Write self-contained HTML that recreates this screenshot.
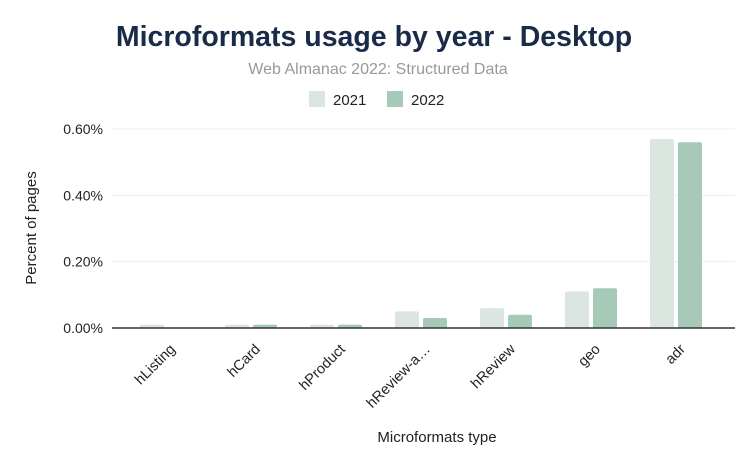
<!DOCTYPE html>
<html><head><meta charset="utf-8"><style>
body{margin:0;background:#fff;font-family:"Liberation Sans",Arial,sans-serif}
</style></head><body>
<svg width="756" height="469" viewBox="0 0 756 469" xmlns="http://www.w3.org/2000/svg" style="font-family:'Liberation Sans',Arial,sans-serif">
<rect width="756" height="469" fill="#fff"/>
<text x="374" y="46" text-anchor="middle" font-size="28.5" font-weight="bold" fill="#1a2b49">Microformats usage by year - Desktop</text>
<text x="378" y="74" text-anchor="middle" font-size="16" fill="#999">Web Almanac 2022: Structured Data</text>
<g>
<rect x="309" y="91" width="16" height="16" fill="#dce6e1"/>
<text x="333" y="105" font-size="15" fill="#222">2021</text>
<rect x="387" y="91" width="16" height="16" fill="#a6c9b8"/>
<text x="411" y="105" font-size="15" fill="#222">2022</text>
</g>
<g id="grid"></g>
<g id="bars"></g>
<g id="xlabels"></g>
<line x1="112" y1="328" x2="735" y2="328" stroke="#333" stroke-width="1.5"/>
<text transform="translate(36,228) rotate(-90)" text-anchor="middle" font-size="15" fill="#222">Percent of pages</text>
<text x="437" y="442" text-anchor="middle" font-size="15" fill="#222">Microformats type</text>
</svg>
<script>
const categories=["hListing","hCard","hProduct","hReview-a…","hReview","geo","adr"];
const values2021=[0.01,0.01,0.01,0.05,0.06,0.11,0.57];
const values2022=[0,0.01,0.01,0.03,0.04,0.12,0.56];
const yTicks=[0,0.2,0.4,0.6];
const yTickLabels=["0.00%","0.20%","0.40%","0.60%"];
const NS="http://www.w3.org/2000/svg";
const y0=328,pxPer=199/0.6;
function y(v){return y0-v*pxPer;}
function groupCenter(i){return 166+i*85;}
const grid=document.getElementById('grid');
yTicks.forEach((t,i)=>{
 if(t>0){const l=document.createElementNS(NS,'line');
 l.setAttribute('x1',112);l.setAttribute('x2',735);l.setAttribute('y1',y(t));l.setAttribute('y2',y(t));
 l.setAttribute('stroke','#eee');
 
 
 grid.appendChild(l);}
 const tx=document.createElementNS(NS,'text');
 tx.setAttribute('x',103);tx.setAttribute('y',y(t)+5);tx.setAttribute('text-anchor','end');
 tx.setAttribute('font-size','14');tx.setAttribute('fill','#222');tx.textContent=yTickLabels[i];
 
 
 grid.appendChild(tx);
});
const bars=document.getElementById('bars');
function bar(x,v,color,name){
 if(v<=0)return;
 const r=document.createElementNS(NS,'rect');
 r.setAttribute('x',x);r.setAttribute('y',y(v));r.setAttribute('width',24);r.setAttribute('height',y0-y(v));
 r.setAttribute('fill',color);r.setAttribute('rx',2);
 
 
 bars.appendChild(r);
}
const xl=document.getElementById('xlabels');
categories.forEach((c,i)=>{
 const cx=groupCenter(i);
 bar(cx-26,values2021[i],'#dce6e1','bar-2021-'+i);
 bar(cx+2,values2022[i],'#a6c9b8','bar-2022-'+i);
 const t=document.createElementNS(NS,'text');
 t.setAttribute('transform','translate('+(cx+10)+',350) rotate(-45)');
 t.setAttribute('text-anchor','end');t.setAttribute('font-size','14.5');t.setAttribute('fill','#222');
 t.textContent=c;
 
 
 xl.appendChild(t);
});
</script>
</body></html>
